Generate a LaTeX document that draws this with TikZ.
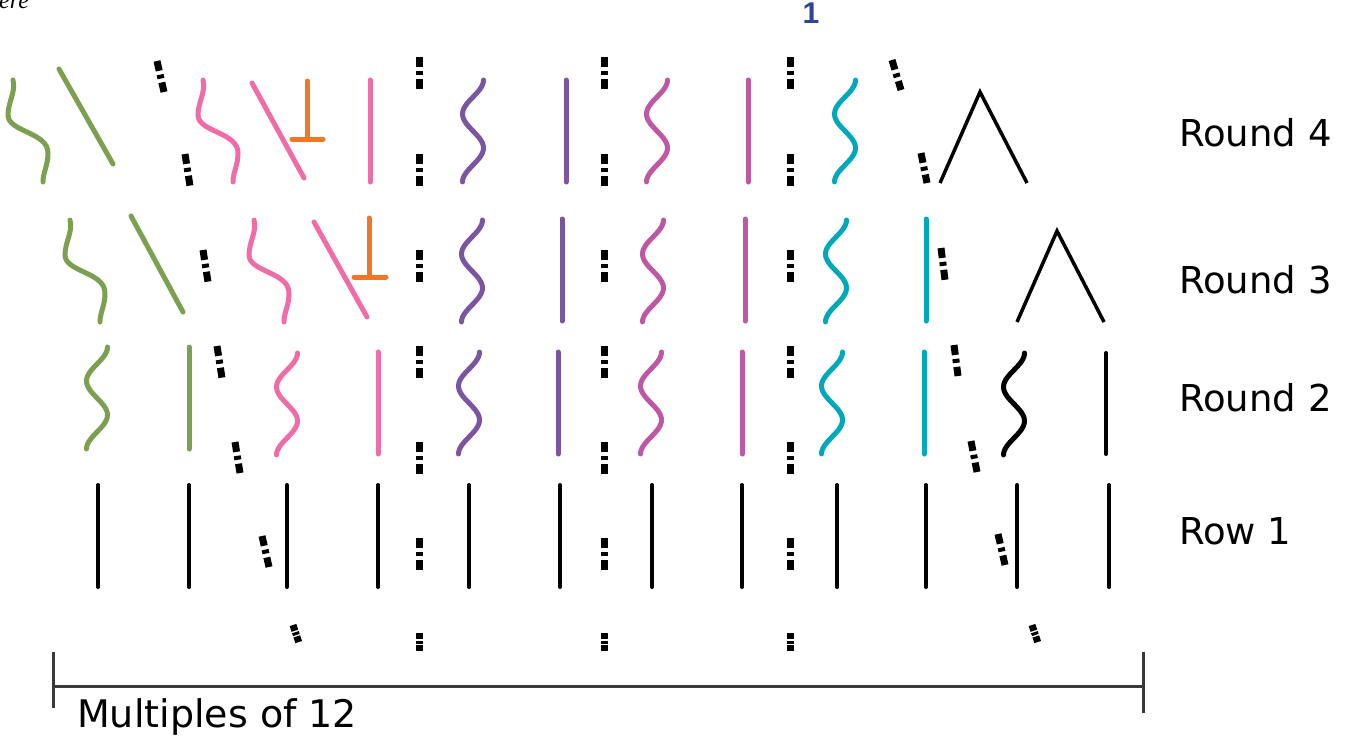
\documentclass[tikz,border=0pt]{standalone}
\usepackage{fontspec}
\setmainfont{DejaVu Sans}
\newfontfamily\arialfont{Liberation Sans}
\newfontfamily\timesfont{Liberation Serif}
\usepackage{xcolor}
\usepackage{tikz}

\definecolor{stgreen}{RGB}{122,160,80}
\definecolor{stpink}{RGB}{240,108,166}
\definecolor{storange}{RGB}{240,118,40}
\definecolor{stpurple}{RGB}{123,85,162}
\definecolor{stmagenta}{RGB}{190,88,162}
\definecolor{stteal}{RGB}{0,168,188}
\definecolor{stblue}{RGB}{43,70,148}
\definecolor{stgray}{RGB}{58,58,58}

\tikzset{
  stitch/.style={line width=5pt, line cap=round},
  blackst/.style={line width=4pt, line cap=round, black},
  caret/.style={line width=3.5pt, black},
  gapmark/.style={line width=7pt, black, dash pattern=on 10pt off 4pt on 4pt off 4pt on 10pt},
  smallmark/.style={line width=7pt, black, dash pattern=on 6pt off 1.5pt on 3pt off 1.5pt on 6pt},
  roundtext/.style={font=\fontsize{37}{44}\selectfont, inner sep=0pt, anchor=base west},
  bracket/.style={line width=3pt, stgray}
}

\begin{document}
\begin{tikzpicture}[x=1pt,y=-1pt]
        \useasboundingbox (0,0) rectangle (1348,740);
        % Puntos inclinados (ondas de una vuelta)
        \foreach \tx/\ty/\col in {13/80/stgreen, 203/80/stpink, 70/220/stgreen, 254/220/stpink} {
            \begin{scope}[shift={(\tx,\ty)}]
                \draw[stitch,\col] (0,0) .. controls (3,12) and (-5,22) .. (-5,35)
                    .. controls (-5,52) and (35,52) .. (35,73) .. controls (35,86) and (30,92) .. (30,102);
            \end{scope}
        }
        % Puntos en S
        \foreach \cx/\ty/\col in {473/80/stpurple, 657/80/stmagenta, 845/80/stteal,
                                   472/220/stpurple, 653/220/stmagenta, 836/220/stteal,
                                   97/347/stgreen, 287/353/stpink, 469/352/stpurple,
                                   651/352/stmagenta, 832/352/stteal, 1014/353/black} {
            \draw[stitch,\col] plot[domain=0:1,samples=50,smooth] ({\cx+10.5*cos(540*\x)},{\ty+102*\x});
        }
        % Barras de color
        \foreach \vx/\vy/\col in {370/80/stpink, 566/80/stpurple, 748/80/stmagenta,
                                   562/219/stpurple, 745/219/stmagenta, 926/219/stteal,
                                   189/347/stgreen, 378/352/stpink, 558/352/stpurple,
                                   742/352/stmagenta, 924/352/stteal} {
            \draw[stitch,\col] (\vx,\vy) -- ++(0,102);
        }
        \draw[blackst] (1106,353) -- (1106,454);
        % Diagonales y puntos en T
        \draw[stitch,stgreen] (59,69) -- (113,164);
        \draw[stitch,stpink] (252,83) -- (304,178);
        \draw[stitch,stgreen] (131,216) -- (183,312);
        \draw[stitch,stpink] (314,222) -- (367,317);
        \draw[stitch,storange] (307,81) -- (307,139) (292,139) -- (323,139);
        \draw[stitch,storange] (369,218) -- (369,277) (354,277) -- (386,277);
        \draw[caret] (940,183) -- (980,92) -- (1027,183);
        \draw[caret] (1017,322) -- (1057,231) -- (1104,322);
        % Fila 1
        \foreach \vx in {98,189,287,378,469,560,652,742,837,926,1017,1109} {
            \draw[blackst] (\vx,485) -- (\vx,587);
        }
        % Marcas
        \foreach \mx in {419,604,790} {
            \foreach \my in {57,154,250,346,442,538} {
                \draw[gapmark] (\mx,\my) -- ++(0,32);
            }
            \draw[smallmark] (\mx,633) -- ++(0,18);
        }
        \draw[gapmark] (157,61) -- (164,92);
        \draw[gapmark] (185,154) -- (190,186);
        \draw[gapmark] (892,60) -- (901,90);
        \draw[gapmark] (921,153) -- (927,183);
        \draw[gapmark] (203,250) -- (208,282);
        \draw[gapmark] (941,248) -- (945,280);
        \draw[gapmark] (217,346) -- (222,378);
        \draw[gapmark] (235,442) -- (240,473);
        \draw[gapmark] (954,345) -- (958,376);
        \draw[gapmark] (971,441) -- (977,472);
        \draw[gapmark] (262,536) -- (269,567);
        \draw[gapmark] (998,534) -- (1005,565);
        \draw[smallmark] (293,625) -- (299,643);
        \draw[smallmark] (1032,625) -- (1038,643);
        % Textos
        \node[roundtext] (round4) at (1179,146) {Round 4};
        \node[roundtext] (round3) at (1179,293) {Round 3};
        \node[roundtext] (round2) at (1179,411) {Round 2};
        \node[roundtext] (row1) at (1179,544) {Row 1};
        \node[roundtext, font=\fontsize{38}{44}\selectfont] (mult) at (77,727) {Multiples of 12};
        \node[inner sep=0pt, anchor=base, text=stblue, font=\arialfont\bfseries\fontsize{30}{36}\selectfont] (one) at (811,23) {1};
        \node[inner sep=0pt, anchor=base west, font=\timesfont\itshape\fontsize{24}{28}\selectfont] (ere) at (-1,8) {ere};
        % Llave
        \draw[bracket] (53,652) -- (53,708) (53,686) -- (1143,686) (1143,652) -- (1143,713);
    \end{tikzpicture}
\end{document}
